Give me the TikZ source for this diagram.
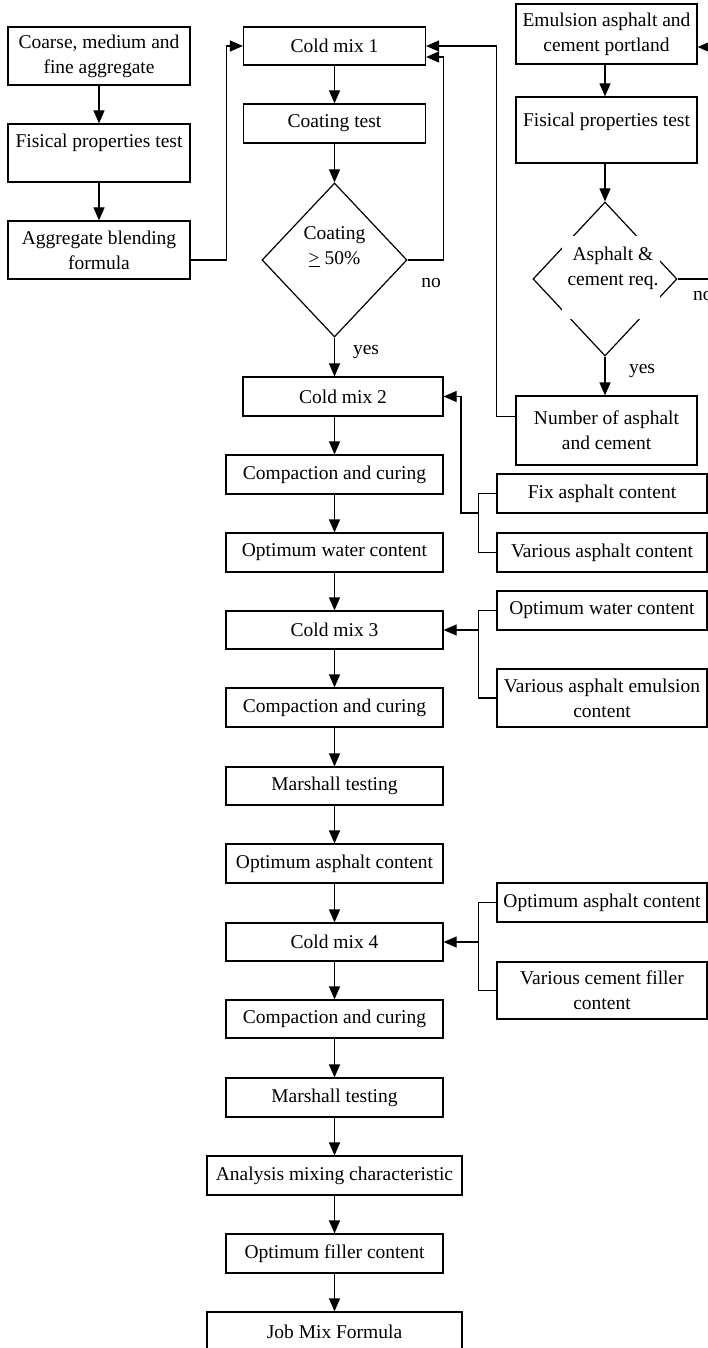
\documentclass[tikz,border=0pt]{standalone}
\usepackage{fontspec}
\setmainfont{Liberation Serif}
\usetikzlibrary{arrows.meta,shapes.geometric}
\begin{document}
\begin{tikzpicture}[x=1pt,y=-1pt,
  every node/.style={font=\fontsize{19.5}{25}\selectfont},
  box/.style={draw, line width=1.2pt, rectangle, inner sep=2pt, align=center},
  arr/.style={line width=1.2pt, -{Triangle[length=13pt,width=11pt]}},
  ln/.style={line width=1.2pt},
  dia/.style={draw, diamond, line width=1.2pt, inner sep=0pt},
  lbl/.style={inner sep=1pt}]
\useasboundingbox (0,0) rectangle (708,1348);
% left column
\node[box, minimum width=182pt, minimum height=58pt] (a1) at (99,56) {Coarse, medium and\\fine aggregate};
\node[box, minimum width=182pt, minimum height=58pt] (a2) at (99,153) {Fisical properties test\\~};
\node[box, minimum width=182pt, minimum height=58pt] (a3) at (99,250) {Aggregate blending\\formula};
% middle column
\node[box, minimum width=182pt, minimum height=38pt] (m1) at (334.5,46) {Cold mix 1};
\node[box, minimum width=182pt, minimum height=39pt] (m2) at (334.5,123.5) {Coating test};
\node[dia, minimum width=145pt, minimum height=154pt] (d1) at (334.5,260) {};
\node[fill=white, inner sep=3pt, align=center] (d1t) at (334.5,247) {Coating\\\underline{>}~50\%};
\node[box, minimum width=200pt, minimum height=39pt] (m3) at (343,396.5) {Cold mix 2};
\node[box, minimum width=217pt, minimum height=39pt] (m4) at (334.5,474.5) {Compaction and curing};
\node[box, minimum width=217pt, minimum height=39pt] (m5) at (334.5,552.5) {Optimum water content};
\node[box, minimum width=217pt, minimum height=38pt] (m6) at (334.5,630) {Cold mix 3};
\node[box, minimum width=217pt, minimum height=39pt] (m7) at (334.5,707.5) {Compaction and curing};
\node[box, minimum width=217pt, minimum height=38pt] (m8) at (334.5,786) {Marshall testing};
\node[box, minimum width=217pt, minimum height=39pt] (m9) at (334.5,863.5) {Optimum asphalt content};
\node[box, minimum width=217pt, minimum height=38pt] (m10) at (334.5,942) {Cold mix 4};
\node[box, minimum width=217pt, minimum height=38pt] (m11) at (334.5,1019) {Compaction and curing};
\node[box, minimum width=217pt, minimum height=39pt] (m12) at (334.5,1097.5) {Marshall testing};
\node[box, minimum width=255pt, minimum height=39pt] (m13) at (334.5,1175.5) {Analysis mixing characteristic};
\node[box, minimum width=217pt, minimum height=39pt] (m14) at (334.5,1253.5) {Optimum filler content};
\node[box, minimum width=255pt, minimum height=40pt] (m15) at (334.5,1332) {Job Mix Formula};
% right column
\node[box, minimum width=181pt, minimum height=60pt] (r1) at (606.5,34) {Emulsion asphalt and\\cement portland};
\node[box, minimum width=181pt, minimum height=66pt] (r2) at (606.5,130) {Fisical properties test\\[-4pt]~};
\node[dia, minimum width=144pt, minimum height=154pt] (d2) at (605,279) {};
\node[fill=white, minimum width=98pt, minimum height=83pt, inner sep=0pt] (d2mask) at (611,277.5) {};
\node[inner sep=0pt, align=center] (d2t) at (613,268) {Asphalt \&\\cement req.};
\node[box, minimum width=181pt, minimum height=69pt] (r3) at (606.5,430.5) {Number of asphalt\\and cement};
% side groups
\node[box, minimum width=210pt, minimum height=39pt] (g1a) at (602,493.5) {Fix asphalt content};
\node[box, minimum width=210pt, minimum height=39pt] (g1b) at (602,552.5) {Various asphalt content};
\node[box, minimum width=210pt, minimum height=39pt] (g2a) at (602,610.5) {Optimum water content};
\node[box, minimum width=210pt, minimum height=58pt] (g2b) at (602,698) {Various asphalt emulsion\\content};
\node[box, minimum width=210pt, minimum height=39pt] (g3a) at (602,902.5) {Optimum asphalt content};
\node[box, minimum width=210pt, minimum height=57pt] (g3b) at (602,990.5) {Various cement filler\\content};
% labels
\node[lbl] (no1) at (431,283) {no};
\node[lbl] (yes1) at (366,352) {yes};
\node[lbl] (yes2) at (642,371) {yes};
\node[lbl, anchor=west] (no2) at (692,296) {no};
% left connectors
\draw[arr] (a1) -- (a2);
\draw[arr] (a2) -- (a3);
\draw[arr] ([yshift=-10pt]a3.east) -- ++(36,0) |- (m1.west);
% middle connectors
\draw[arr] (m1) -- (m2);
\draw[arr] (m2) -- (d1.north);
\draw[arr] (d1.south) -- (d1.south |- m3.north);
\draw[arr] (d1.east) -- ++(36,0) |- ([yshift=-11pt]m1.east);
\draw[arr] (m4.north |- m3.south) -- (m4.north);
\draw[arr] (m4) -- (m5);
\draw[arr] (m5) -- (m6);
\draw[arr] (m6) -- (m7);
\draw[arr] (m7) -- (m8);
\draw[arr] (m8) -- (m9);
\draw[arr] (m9) -- (m10);
\draw[arr] (m10) -- (m11);
\draw[arr] (m11) -- (m12);
\draw[arr] (m12) -- (m13);
\draw[arr] (m13) -- (m14);
\draw[arr] (m14) -- (m15);
% right connectors
\draw[arr] (d2.north |- r1.south) -- (d2.north |- r2.north);
\draw[arr] (d2.north |- r2.south) -- (d2.north);
\draw[arr] (d2.south) -- (d2.south |- r3.north);
\draw[arr] (d2.east) -- ++(40,0) |- ([yshift=-13pt]r1.east);
\draw[arr] ([yshift=14pt]r3.west) -- ++(-19,0) |- (m1.east);
% groups
\coordinate (j1) at (479,513);
\draw[ln] (g1a.west) -- ++(-18,0) |- (g1b.west);
\draw[arr] (j1) -- ++(-18,0) |- (m3.east);
\draw[ln] (g2a.west) -- ++(-18,0) |- (g2b.west);
\draw[arr] (m6.east -| j1) -- (m6.east);
\draw[ln] (g3a.west) -- ++(-18,0) |- (g3b.west);
\draw[arr] (m10.east -| j1) -- (m10.east);
\end{tikzpicture}
\end{document}
